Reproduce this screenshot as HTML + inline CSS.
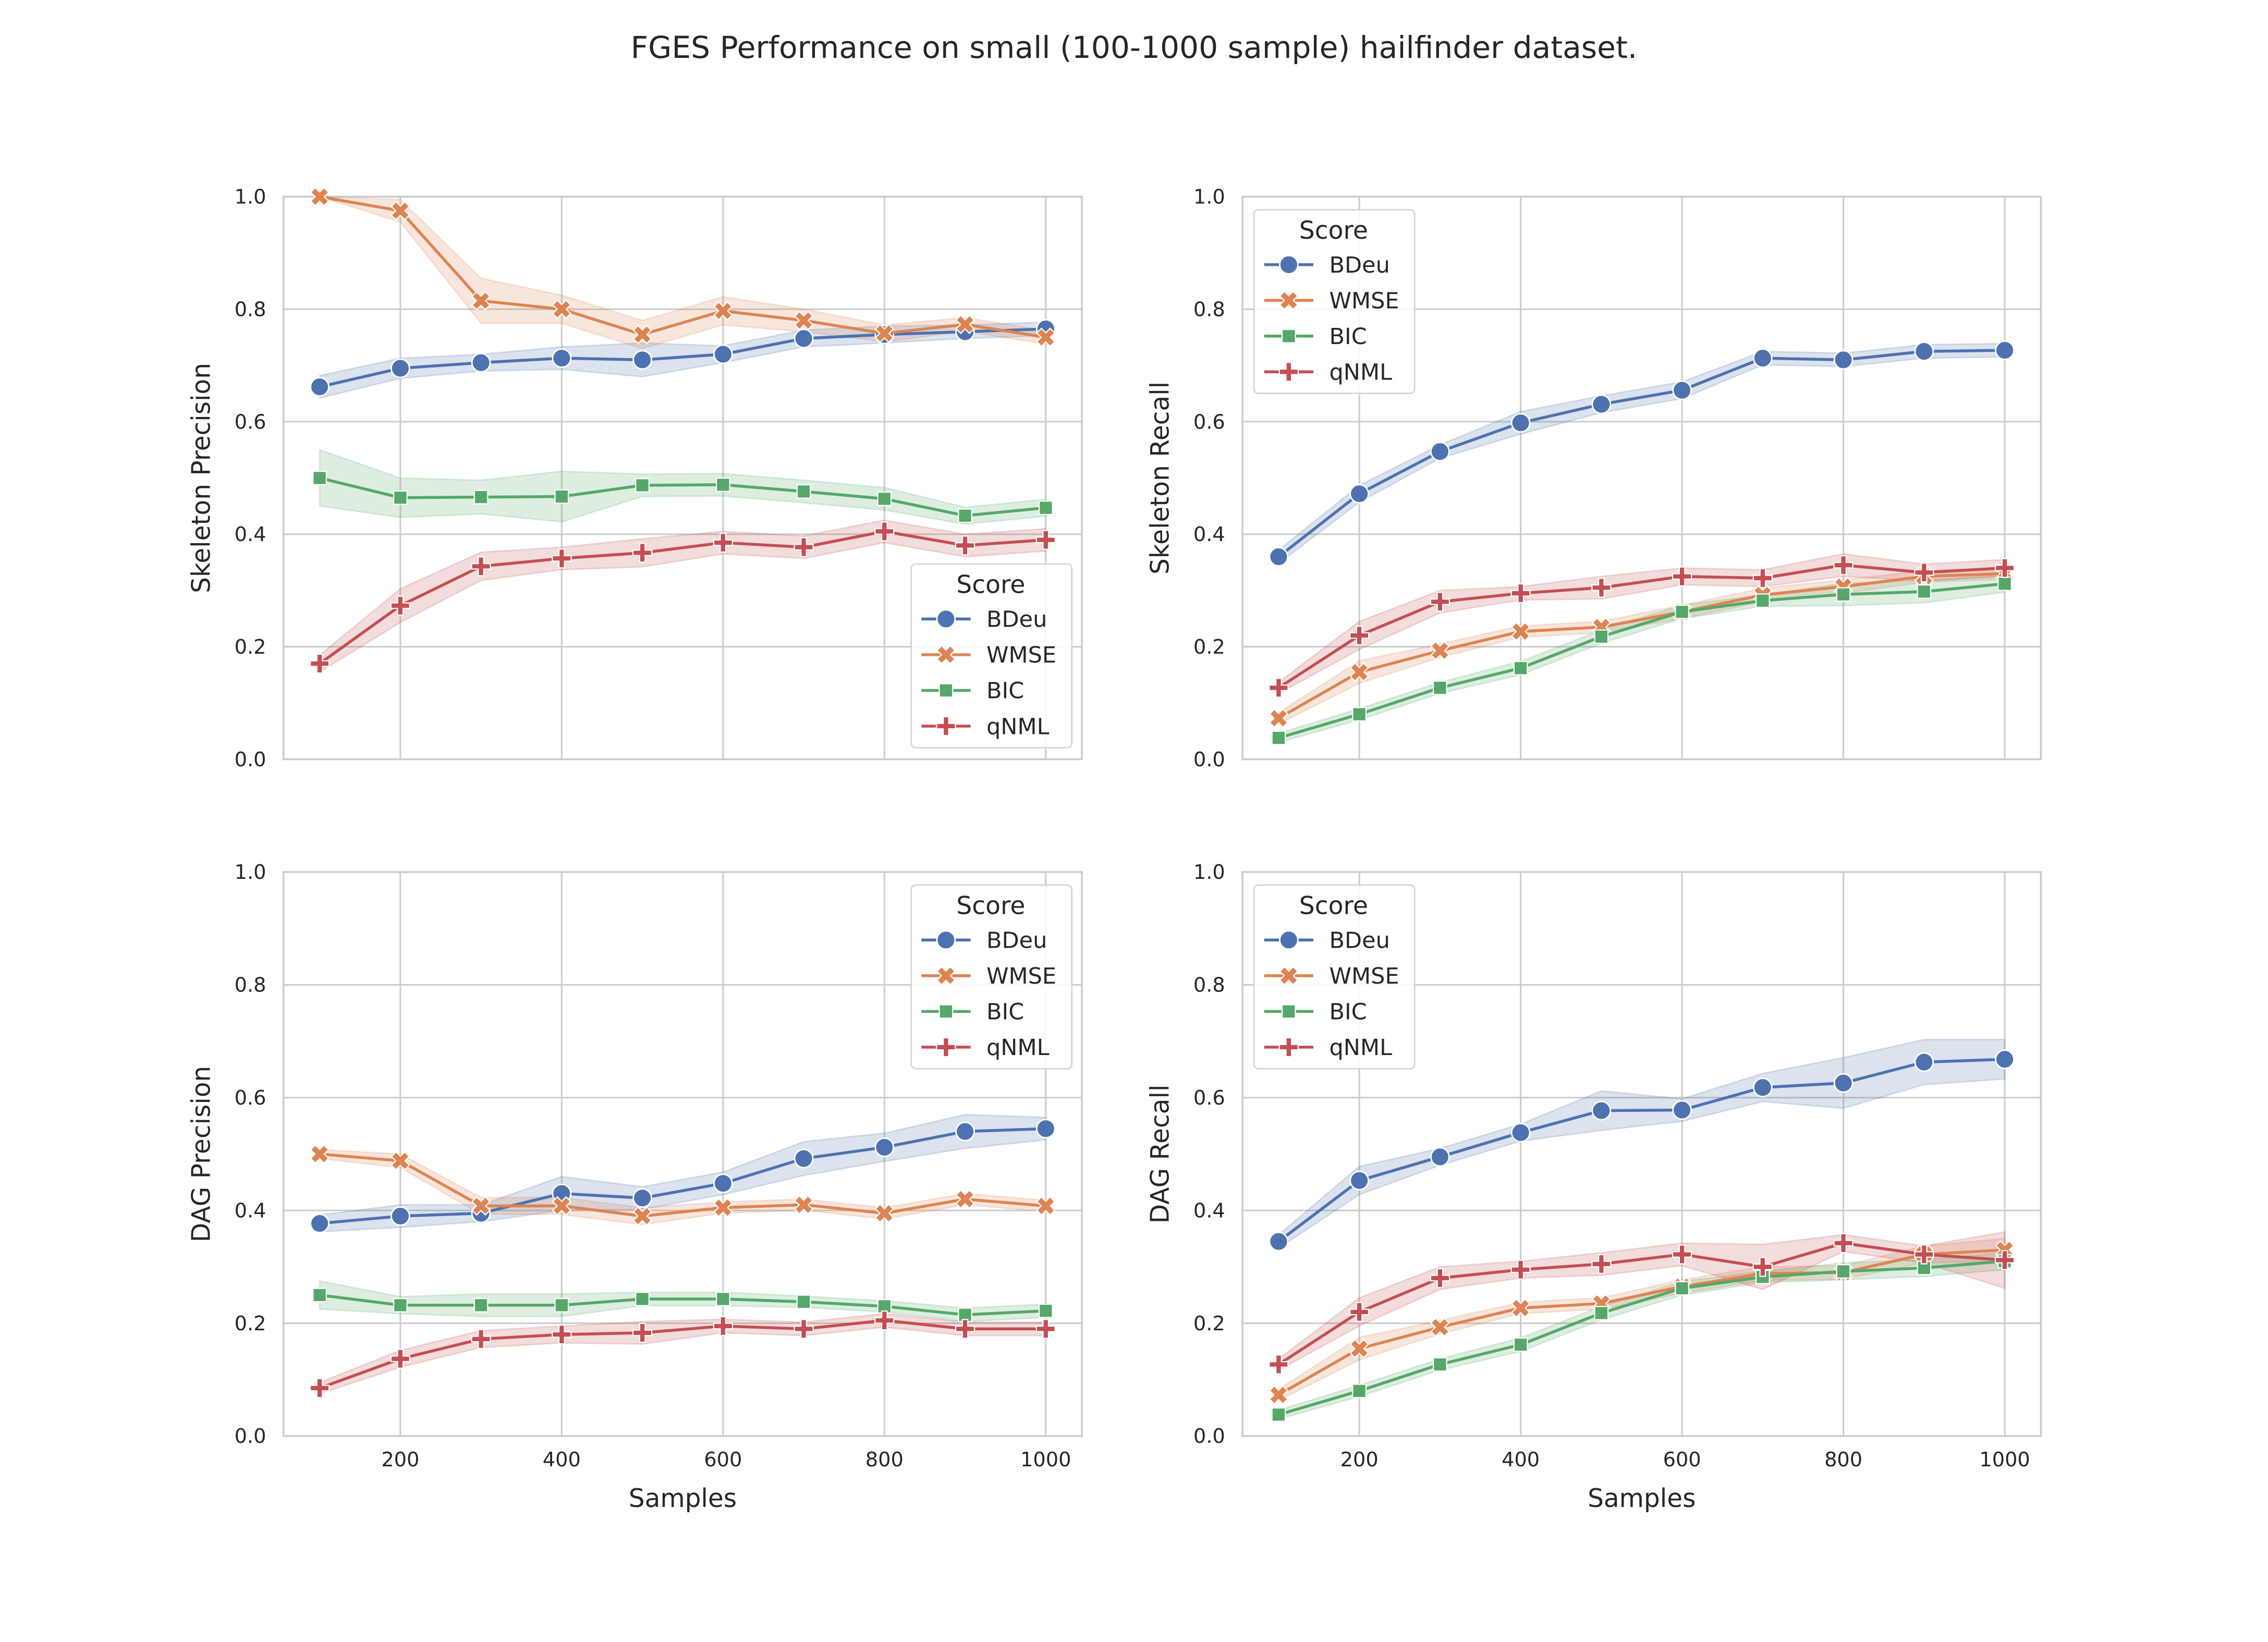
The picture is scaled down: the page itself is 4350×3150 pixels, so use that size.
<!DOCTYPE html>
<html><head><meta charset="utf-8"><style>
html,body{margin:0;padding:0;background:#fff}
svg{display:block}
text{font-family:"DejaVu Sans","Liberation Sans",sans-serif;fill:#262626}
</style></head><body>
<svg id="fig" xmlns="http://www.w3.org/2000/svg" width="4350" height="3150" viewBox="0 0 1568 1135.4">
<rect width="1568" height="1136" fill="#fff"/>
<text x="784" y="40" font-size="21" text-anchor="middle">FGES Performance on small (100-1000 sample) hailfinder dataset.</text>
</svg>
<script>
const samples=[100,200,300,400,500,600,700,800,900,1000];
const xTicks=[200,400,600,800,1000];
const yTicks=[0,0.2,0.4,0.6,0.8,1.0];
const seriesNames=["BDeu","WMSE","BIC","qNML"];
const colors=["#4c72b0","#dd8452","#55a868","#c44e52"];
// Skeleton Precision
const spBDeu=[.662,.695,.705,.713,.710,.720,.748,.755,.760,.765];
const spWMSE=[1.0,.975,.815,.800,.755,.797,.780,.757,.773,.750];
const spBIC=[.500,.465,.466,.467,.487,.488,.476,.463,.433,.447];
const spQNML=[.170,.273,.343,.357,.367,.385,.377,.405,.380,.390];
const spErr=[[.02,.018,.015,.02,.03,.015,.015,.015,.012,.012],[0,.02,.04,.025,.025,.025,.02,.015,.012,.012],[.05,.035,.03,.045,.02,.02,.02,.02,.015,.015],[.015,.03,.025,.02,.025,.02,.02,.02,.02,.02]];
// Skeleton Recall
const srBDeu=[.360,.472,.547,.598,.631,.656,.713,.710,.725,.727];
const srWMSE=[.073,.155,.193,.227,.235,.262,.292,.307,.325,.330];
const srBIC=[.038,.080,.127,.162,.218,.262,.282,.293,.298,.312];
const srQNML=[.127,.220,.280,.295,.305,.325,.322,.345,.332,.340];
const srErr=[[.012,.015,.012,.02,.015,.015,.012,.012,.012,.012],[.01,.02,.012,.01,.01,.012,.012,.012,.01,.01],[.008,.01,.01,.012,.012,.012,.01,.02,.02,.015],[.01,.025,.02,.012,.02,.015,.015,.02,.015,.015]];
// DAG Precision
const dpBDeu=[.377,.390,.395,.430,.422,.448,.492,.512,.540,.545];
const dpWMSE=[.500,.488,.408,.408,.390,.405,.410,.395,.420,.408];
const dpBIC=[.250,.232,.232,.232,.243,.243,.238,.230,.215,.222];
const dpQNML=[.085,.137,.172,.180,.183,.195,.190,.205,.190,.190];
const dpErr=[[.015,.02,.015,.03,.02,.02,.03,.025,.03,.02],[.008,.012,.015,.015,.015,.01,.01,.01,.01,.01],[.025,.015,.02,.02,.012,.012,.01,.01,.012,.012],[.01,.015,.015,.015,.02,.012,.012,.012,.012,.012]];
// DAG Recall
const drBDeu=[.345,.453,.495,.538,.577,.578,.618,.626,.663,.668];
const drWMSE=[.073,.155,.193,.227,.235,.265,.288,.290,.322,.330];
const drBIC=[.038,.080,.127,.162,.218,.262,.282,.292,.298,.310];
const drQNML=[.127,.220,.280,.295,.305,.322,.300,.342,.322,.312];
const drErr=[[.012,.025,.015,.015,.035,.02,.025,.045,.04,.035],[.01,.02,.012,.01,.01,.012,.012,.012,.015,.02],[.008,.01,.01,.012,.012,.012,.01,.015,.015,.015],[.01,.025,.02,.015,.02,.02,.04,.015,.015,.05]];

const NS="http://www.w3.org/2000/svg";
const fig=document.getElementById('fig');
function el(tag,attrs,parent){const e=document.createElementNS(NS,tag);for(const k in attrs)e.setAttribute(k,attrs[k]);(parent||fig).appendChild(e);return e;}

function marker(g,i,x,y,name){
  const c=colors[i];let m;
  if(i===0){m=el('circle',{cx:x,cy:y,r:6.3,fill:c,stroke:'#fff','stroke-width':1},g);}
  else if(i===1){const s=4.6,w=3.2;m=el('path',{d:`M${x-s-w/2},${y-s+w/2} L${x-s+w/2},${y-s-w/2} L${x},${y-w} L${x+s-w/2},${y-s-w/2} L${x+s+w/2},${y-s+w/2} L${x+w},${y} L${x+s+w/2},${y+s-w/2} L${x+s-w/2},${y+s+w/2} L${x},${y+w} L${x-s+w/2},${y+s+w/2} L${x-s-w/2},${y+s-w/2} L${x-w},${y} Z`,fill:c,stroke:'#fff','stroke-width':0.8},g);}
  else if(i===2){m=el('rect',{x:x-4.6,y:y-4.6,width:9.2,height:9.2,fill:c,stroke:'#fff','stroke-width':0.8},g);}
  else {const s=6.5,w=1.9;m=el('path',{d:`M${x-w},${y-s}H${x+w}V${y-w}H${x+s}V${y+w}H${x+w}V${y+s}H${x-w}V${y+w}H${x-s}V${y-w}H${x-w}Z`,fill:c,stroke:'#fff','stroke-width':0.8},g);}
  
  
}

function panel(opt){
  const {id,L,R,T,B,ylabel,series,errs,legend,showX}=opt;
  const xs=v=>L+25+(v-100)/900*(R-L-50);
  const ys=v=>B-v*(B-T);
  const g=el('g',{});
  
  
  xTicks.forEach(t=>{const l=el('line',{x1:xs(t),x2:xs(t),y1:T,y2:B,stroke:'#cccccc','stroke-width':1.1},g);
    if(showX){const tx=el('text',{x:xs(t),y:B+21,'font-size':13.8,'text-anchor':'middle'},g);tx.textContent=t;}});
  yTicks.forEach(t=>{const l=el('line',{x1:L,x2:R,y1:ys(t),y2:ys(t),stroke:'#cccccc','stroke-width':1.1},g);
    const tx=el('text',{x:L-12,y:ys(t)+4.8,'font-size':13.8,'text-anchor':'end'},g);tx.textContent=t.toFixed(1);});
  const fr=el('rect',{x:L,y:T,width:R-L,height:B-T,fill:'none',stroke:'#cccccc','stroke-width':1.3},g);
  
  const yl=el('text',{x:L-51,y:(T+B)/2,'font-size':17.5,'text-anchor':'middle',transform:`rotate(-90 ${L-51} ${(T+B)/2})`},g);
  yl.textContent=ylabel;
  if(showX){const xl=el('text',{x:(L+R)/2,y:B+49,'font-size':17.5,'text-anchor':'middle'},g);xl.textContent='Samples';}
  series.forEach((vals,i)=>{
    const e=errs[i];
    const up=samples.map((s,k)=>`${xs(s)},${ys(vals[k]+e[k])}`);
    const dn=samples.map((s,k)=>`${xs(s)},${ys(vals[k]-e[k])}`).reverse();
    const band=el('polygon',{points:up.concat(dn).join(' '),fill:colors[i],'fill-opacity':0.2,stroke:colors[i],'stroke-opacity':0.2},g);
    
  });
  series.forEach((vals,i)=>{
    const ln=el('polyline',{points:samples.map((s,k)=>`${xs(s)},${ys(vals[k])}`).join(' '),fill:'none',stroke:colors[i],'stroke-width':2},g);
    
    samples.forEach((s,k)=>marker(g,i,xs(s),ys(vals[k]),'point-'+seriesNames[i].toLowerCase()));
  });
  const [lx,ly]=legend;
  const lg=el('g',{},g);
  
  el('rect',{x:lx,y:ly,width:111,height:127,rx:3,fill:'#fff','fill-opacity':0.85,stroke:'#d6d6d6','stroke-width':1},lg);
  const lt=el('text',{x:lx+55,y:ly+20,'font-size':17,'text-anchor':'middle'},lg);lt.textContent='Score';
  
  seriesNames.forEach((n,i)=>{
    const yy=ly+38+i*24.7;
    const le=el('line',{x1:lx+7,x2:lx+41,y1:yy,y2:yy,stroke:colors[i],'stroke-width':2},lg);
    
    marker(lg,i,lx+24,yy,'legend-marker-'+n.toLowerCase());
    const t=el('text',{x:lx+52,y:yy+5.5,'font-size':15.5},lg);t.textContent=n;
    
  });
}
panel({id:'skeleton-precision-panel',L:196,R:748,T:136,B:525,ylabel:'Skeleton Precision',series:[spBDeu,spWMSE,spBIC,spQNML],errs:spErr,legend:[630,390],showX:false});
panel({id:'skeleton-recall-panel',L:859,R:1411,T:136,B:525,ylabel:'Skeleton Recall',series:[srBDeu,srWMSE,srBIC,srQNML],errs:srErr,legend:[867,145],showX:false});
panel({id:'dag-precision-panel',L:196,R:748,T:603,B:993,ylabel:'DAG Precision',series:[dpBDeu,dpWMSE,dpBIC,dpQNML],errs:dpErr,legend:[630,612],showX:true});
panel({id:'dag-recall-panel',L:859,R:1411,T:603,B:993,ylabel:'DAG Recall',series:[drBDeu,drWMSE,drBIC,drQNML],errs:drErr,legend:[867,612],showX:true});
</script>
</body></html>
